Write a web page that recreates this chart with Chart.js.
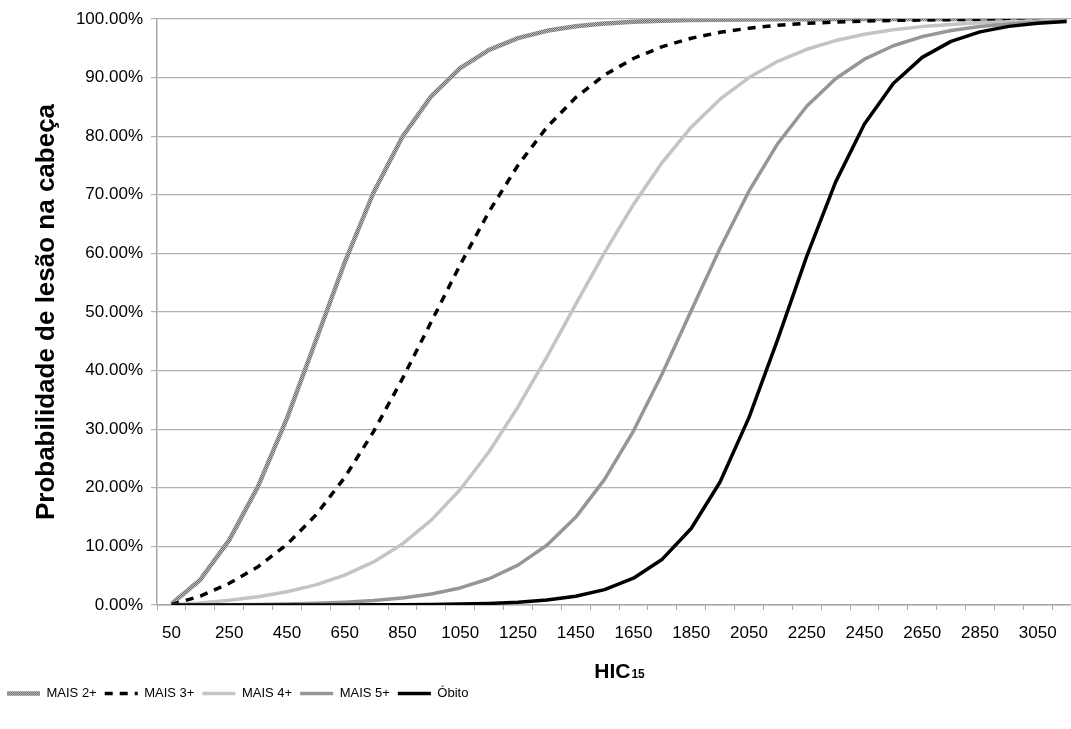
<!DOCTYPE html>
<html>
<head>
<meta charset="utf-8">
<script src="https://cdn.jsdelivr.net/npm/chart.js@4"></script>
<style>
  html, body { margin: 0; padding: 0; background: #fff; overflow: hidden; }
  #wrap { width: 1081px; height: 729px; }
</style>
</head>
<body>
<div id="wrap"><canvas id="hic_chart" width="1081" height="729"></canvas></div>
<script>
// HIC15 categories (one point every 100, labels shown every 200)
const hic = ['50', '150', '250', '350', '450', '550', '650', '750', '850', '950',
  '1050', '1150', '1250', '1350', '1450', '1550', '1650', '1750', '1850', '1950',
  '2050', '2150', '2250', '2350', '2450', '2550', '2650', '2750', '2850', '2950',
  '3050', '3150']

// probabilities in %
const mais2 = [0.19, 4.32, 11.08, 20.25, 31.85, 45.09, 58.46, 70.39, 79.9, 86.85,
  91.62, 94.74, 96.73, 97.98, 98.76, 99.24, 99.53, 99.71, 99.82, 99.89,
  99.93, 99.96, 99.97, 99.98, 99.99, 99.99, 100, 100, 100, 100, 100, 100]
const mais3 = [0.07, 1.53, 3.7, 6.54, 10.34, 15.35, 21.76, 29.59, 38.62, 48.34,
  58.07, 67.13, 75.03, 81.52, 86.6, 90.44, 93.26, 95.28, 96.72, 97.73,
  98.43, 98.92, 99.25, 99.49, 99.65, 99.76, 99.83, 99.89, 99.92, 99.95, 99.96, 99.97]
const mais4 = [0.02, 0.33, 0.8, 1.42, 2.26, 3.44, 5.09, 7.35, 10.42, 14.48,
  19.7, 26.16, 33.79, 42.32, 51.29, 60.14, 68.36, 75.55, 81.54, 86.32,
  90.01, 92.78, 94.83, 96.32, 97.39, 98.15, 98.7, 99.08, 99.35, 99.54, 99.68, 99.77]
const mais5 = [0, 0.02, 0.05, 0.1, 0.18, 0.29, 0.48, 0.76, 1.2, 1.88,
  2.91, 4.48, 6.8, 10.19, 14.96, 21.43, 29.68, 39.49, 50.21, 60.89,
  70.62, 78.76, 85.11, 89.81, 93.14, 95.44, 96.99, 98.03, 98.71, 99.16, 99.45, 99.64]
const obito = [0, 0, 0, 0, 0, 0.01, 0.01, 0.03, 0.05, 0.08,
  0.15, 0.27, 0.48, 0.85, 1.5, 2.63, 4.57, 7.82, 13.06, 20.99,
  31.97, 45.38, 59.48, 72.16, 82.07, 88.98, 93.45, 96.18, 97.8, 98.74, 99.28, 99.59]

const FONT = '"Liberation Sans", Arial, sans-serif'

// textured grey for MAIS 2+
function greyPattern() {
  let pc = document.createElement('canvas')
  pc.width = 2
  pc.height = 2
  let p = pc.getContext('2d')
  p.fillStyle = '#707070'
  p.fillRect(0, 0, 2, 2)
  p.fillStyle = '#b8b8b8'
  p.fillRect(0, 0, 1, 1)
  p.fillRect(1, 1, 1, 1)
  return p.createPattern(pc, 'repeat')
}

// x axis title with the small "15"
const hicTitle = {
  id: 'hicTitle',
  afterDraw(chart) {
    const { ctx, chartArea } = chart
    const xs = chart.scales.x
    const cx = (chartArea.left + chartArea.right) / 2
    const base = xs.top + 73
    ctx.save()
    ctx.fillStyle = '#000'
    ctx.textBaseline = 'alphabetic'
    ctx.textAlign = 'left'
    ctx.font = 'bold 21px ' + FONT
    const w1 = ctx.measureText('HIC').width
    ctx.font = 'bold 12px ' + FONT
    const w2 = ctx.measureText('15').width
    const x0 = cx - (w1 + w2) / 2
    ctx.font = 'bold 21px ' + FONT
    ctx.fillText('HIC', x0, base)
    ctx.font = 'bold 12px ' + FONT
    ctx.fillText('15', x0 + w1 + 1, base)
    ctx.restore()
  },
}

const datasets = [
  { label: 'MAIS 2+', data: mais2, borderColor: greyPattern(), borderWidth: 4.5, order: 5 },
  { label: 'MAIS 3+', data: mais3, borderColor: '#000', borderWidth: 3.5, borderDash: [8, 7], order: 4 },
  { label: 'MAIS 4+', data: mais4, borderColor: '#c4c4c4', borderWidth: 3.5, order: 3 },
  { label: 'MAIS 5+', data: mais5, borderColor: '#969696', borderWidth: 3.5, order: 2 },
  { label: 'Óbito', data: obito, borderColor: '#000', borderWidth: 3.5, order: 1 },
]
datasets.forEach((d) => {
  d.pointRadius = 0
  d.tension = 0
  d.fill = false
  d.borderJoinStyle = 'round'
})

const config = {
  type: 'line',
  data: { labels: hic, datasets: datasets },
  options: {
    responsive: false,
    animation: false,
    layout: { padding: { left: -1, right: 0, top: 19, bottom: 19 } },
    plugins: {
      tooltip: { enabled: false },
      legend: {
        position: 'bottom',
        align: 'start',
        labels: {
          usePointStyle: true,
          pointStyle: 'line',
          pointStyleWidth: 33,
          padding: 8,
          color: '#000',
          font: { family: FONT, size: 13 },
          generateLabels(chart) {
            return chart.data.datasets.map((ds, i) => ({
              text: ds.label,
              strokeStyle: ds.borderColor,
              fillStyle: ds.borderColor,
              lineWidth: ds.borderWidth,
              lineDash: ds.borderDash || [],
              pointStyle: 'line',
              hidden: false,
              fontColor: '#000',
              datasetIndex: i,
            }))
          },
        },
      },
    },
    scales: {
      x: {
        type: 'category',
        offset: true,
        grid: { offset: true, drawOnChartArea: false, drawTicks: true, tickLength: 5, color: '#a8a8a8' },
        border: { color: '#a8a8a8', width: 1.5 },
        ticks: {
          autoSkip: false,
          maxRotation: 0,
          padding: 13,
          color: '#000',
          font: { family: FONT, size: 17 },
          callback: function (v, i) {
            return i % 2 === 0 ? this.getLabelForValue(v) : ''
          },
        },
        afterFit(s) {
          s.height = 74
        },
      },
      y: {
        min: 0,
        max: 100,
        grid: { color: '#b0b0b0', tickLength: 6, lineWidth: 1.2 },
        border: { color: '#a8a8a8', width: 1.5 },
        ticks: {
          stepSize: 10,
          padding: 8,
          color: '#000',
          font: { family: FONT, size: 17 },
          callback: (v) => v.toFixed(2) + '%',
        },
        title: {
          display: true,
          text: 'Probabilidade de lesão na cabeça',
          color: '#000',
          font: { family: FONT, size: 26, weight: 'bold' },
          padding: { top: 32, bottom: 0 },
        },
        afterFit(s) {
          s.width = 158
        },
      },
    },
  },
  plugins: [hicTitle],
}

let hic_chart_element = new Chart(document.getElementById('hic_chart'), config)
</script>
</body>
</html>
